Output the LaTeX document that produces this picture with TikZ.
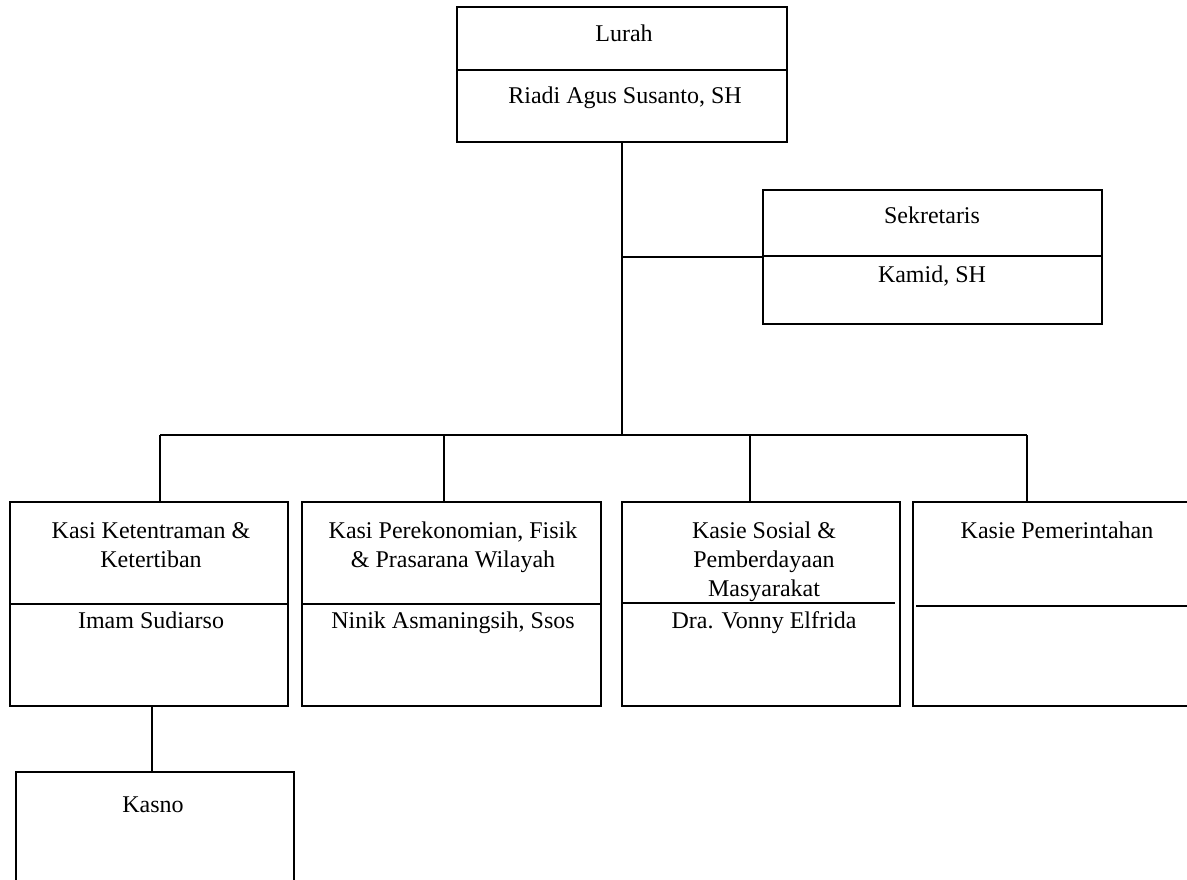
\documentclass[tikz,border=0pt]{standalone}
\usepackage{fontspec}
\setmainfont{Liberation Serif}
\begin{document}
\begin{tikzpicture}[x=1pt,y=-1pt,
  box/.style={draw, line width=2pt, inner sep=0pt},
  ln/.style={line width=2pt},
  lbl/.style={anchor=base, inner sep=0pt, font=\fontsize{24}{29}\selectfont, align=center}]
\useasboundingbox (0,0) rectangle (1187,880);
\clip (0,0) rectangle (1187,880);
\fill[white] (0,0) rectangle (1187,880);
% boxes
\node[box, minimum width=330, minimum height=135] (lurah) at (622,74.5) {};
\node[box, minimum width=339, minimum height=134] (sek) at (932.5,257) {};
\node[box, minimum width=278, minimum height=204] (b1) at (149,604) {};
\node[box, minimum width=299, minimum height=204] (b2) at (451.5,604) {};
\node[box, minimum width=278, minimum height=204] (b3) at (761,604) {};
\node[box, minimum width=288, minimum height=204] (b4) at (1057,604) {};
\node[box, minimum width=278, minimum height=204] (kasno) at (155,874) {};
% dividers
\draw[ln] (lurah.west |- 0,70) -- (lurah.east |- 0,70);
\draw[ln] (sek.west |- 0,256) -- (sek.east |- 0,256);
\draw[ln] (b1.west |- 0,604) -- (b1.east |- 0,604);
\draw[ln] (b2.west |- 0,604) -- (b2.east |- 0,604);
\draw[ln] (b3.west |- 0,603) -- ([xshift=-6pt]b3.east |- 0,603);
\draw[ln] ([xshift=4pt]b4.west |- 0,606) -- (b4.east |- 0,606);
% texts
\node[lbl] (t1) at (624,42) {Lurah};
\node[lbl] (t2) at (625,104) {Riadi Agus Susanto, SH};
\node[lbl] (t3) at (932,224) {Sekretaris};
\node[lbl] (t4) at (932,282) {Kamid, SH};
\node[lbl] (t5) at (151,567) {Kasi Ketentraman \&\\Ketertiban};
\node[lbl] (t6) at (151,628) {Imam Sudiarso};
\node[lbl] (t7) at (453,567) {Kasi Perekonomian, Fisik\\\& Prasarana Wilayah};
\node[lbl] (t8) at (453,628) {Ninik Asmaningsih, Ssos};
\node[lbl] (t9) at (764,596) {Kasie Sosial \&\\Pemberdayaan\\Masyarakat};
\node[lbl] (t10) at (764,628) {Dra. Vonny Elfrida};
\node[lbl] (t11) at (1057,538) {Kasie Pemerintahan};
\node[lbl] (t12) at (153,812) {Kasno};
% connectors
\coordinate (bar) at (622,435);
\coordinate (d1) at (160,435);
\coordinate (d2) at (444,435);
\coordinate (d3) at (750,435);
\coordinate (d4) at (1027,435);
\draw[ln] (lurah.south) -- (bar);
\draw[ln] (sek.west) -- (sek.west -| lurah.south);
\draw[ln] (d1) -- (d4);
\draw[ln] (d1) -- (d1 |- b1.north);
\draw[ln] (d2) -- (d2 |- b2.north);
\draw[ln] (d3) -- (d3 |- b3.north);
\draw[ln] (d4) -- (d4 |- b4.north);
\draw[ln] ([xshift=-3pt]kasno.north) -- ([xshift=-3pt]kasno.north |- b1.south);
\end{tikzpicture}
\end{document}
